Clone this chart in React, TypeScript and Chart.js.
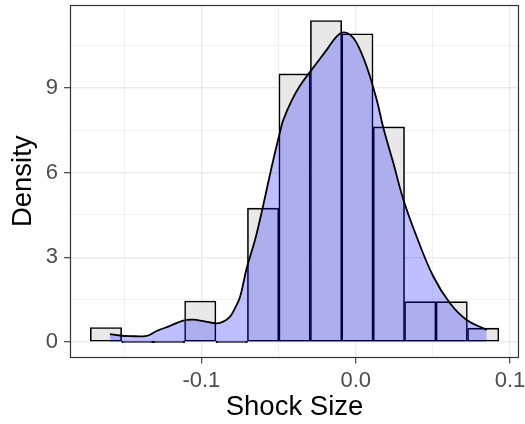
import React, { useEffect, useRef } from "react";
import { Chart, registerables } from "chart.js";

Chart.register(...registerables);

// Histogram bins (density scale)
const binCenters = [-0.1618, -0.1414, -0.121, -0.1007, -0.0803, -0.06, -0.0396, -0.0192, 0.0011, 0.0215, 0.0418, 0.0622, 0.0826];
const binDensity = [0.51, 0, 0, 1.45, 0, 4.74, 9.5, 11.39, 10.92, 7.62, 1.43, 1.43, 0.49];

// Kernel density curve
const densityX = [
  -0.1592, -0.1527, -0.1462, -0.1354, -0.1289, -0.1203, -0.1117, -0.1052, -0.0987, -0.09, -0.0858,
  -0.0814, -0.0782, -0.0749, -0.0706, -0.0652, -0.0605, -0.0566, -0.0534, -0.049, -0.0469, -0.0413,
  -0.0361, -0.0296, -0.0188, -0.0123, -0.008, -0.0037, 0.0007, 0.0071, 0.0136, 0.0179, 0.0244, 0.0309,
  0.0395, 0.0503, 0.0611, 0.0719, 0.0849,
];
const densityY = [
  0.28, 0.23, 0.21, 0.22, 0.39, 0.57, 0.76, 0.79, 0.74, 0.66, 0.72,
  0.9, 1.2, 1.6, 2.62, 3.62, 4.7, 5.67, 6.45, 7.45, 7.87, 8.58,
  9.08, 9.57, 10.35, 10.83, 10.97, 10.89, 10.59, 9.76, 8.58, 7.59, 6.34, 5.04,
  3.73, 2.32, 1.37, 0.78, 0.43,
];

const xTickValues = [-0.15, -0.1, -0.05, 0, 0.05, 0.1];
const xMajorTicks = [-0.1, 0, 0.1];
const yTickValues = [0, 1.5, 3, 4.5, 6, 7.5, 9, 10.5];
const yMajorTicks = [0, 3, 6, 9];
const xTitle = "Shock Size";
const yTitle = "Density";

const FONT = "'Liberation Sans', Arial, sans-serif";

const isIn = (arr: number[], v: number) => arr.some((m) => Math.abs(m - v) < 1e-9);

const panelBorder = {
  id: "panelBorder",
  afterDatasetsDraw(chart: any) {
    const { ctx, chartArea } = chart;
    const { left, top, right, bottom } = chartArea;
    ctx.save();
    ctx.strokeStyle = "#333333";
    ctx.lineWidth = 1.2;
    ctx.strokeRect(Math.round(left) + 0.5, Math.round(top) + 0.5, Math.round(right - left) - 1, Math.round(bottom - top) - 1);
    ctx.restore();
  },
};

export default function App() {
  const ref = useRef<HTMLCanvasElement | null>(null);

  useEffect(() => {
    document.body.style.margin = "0";
    const canvas = ref.current;
    if (!canvas) return;

    const bars = binCenters.map((x, i) => ({ x, y: binDensity[i] }));
    const curve = densityX.map((x, i) => ({ x, y: densityY[i] }));

    const chart = new Chart(canvas, {
      type: "bar",
      data: {
        datasets: [
          {
            type: "line",
            data: curve,
            borderColor: "#000000",
            borderWidth: 1.8,
            backgroundColor: "rgba(0,0,255,0.25)",
            fill: "origin",
            pointRadius: 0,
            tension: 0.4,
            order: 0,
          } as any,
          {
            type: "bar",
            data: bars,
            backgroundColor: "#E8E8E8",
            borderColor: "#000000",
            borderWidth: 1.6,
            borderSkipped: false,
            barPercentage: 1,
            categoryPercentage: 1,
            minBarLength: 1.6,
            order: 1,
          } as any,
        ],
      },
      options: {
        responsive: false,
        animation: false,
        events: [],
        layout: { padding: { top: 5, right: 6, bottom: 0, left: 0 } },
        plugins: { legend: { display: false }, tooltip: { enabled: false } },
        scales: {
          x: {
            type: "linear",
            min: -0.1851,
            max: 0.1058,
            offset: false,
            afterBuildTicks: (scale: any) => {
              scale.ticks = xTickValues.map((v) => ({ value: v }));
            },
            afterFit: (scale: any) => {
              scale.height = 66.5;
              scale.paddingLeft = 0;
              scale.paddingRight = 0;
            },
            border: { display: false },
            grid: {
              offset: false,
              color: "#EBEBEB",
              lineWidth: (c: any) => (isIn(xMajorTicks, c.tick?.value) ? 1.4 : 0.7),
              tickColor: (c: any) => (isIn(xMajorTicks, c.tick?.value) ? "#333333" : "rgba(0,0,0,0)"),
              tickWidth: 1.1,
              tickLength: 6,
              drawTicks: true,
            },
            ticks: {
              autoSkip: false,
              maxRotation: 0,
              minRotation: 0,
              padding: 4,
              color: "#4D4D4D",
              font: { family: FONT, size: 22 },
              callback: (v: any) => (isIn(xMajorTicks, Number(v)) ? Number(v).toFixed(1) : ""),
            },
            title: {
              display: true,
              text: xTitle,
              color: "#000000",
              font: { family: FONT, size: 27.5 },
              padding: { top: 0, bottom: 0 },
            },
          },
          y: {
            type: "linear",
            min: -0.55,
            max: 11.94,
            afterBuildTicks: (scale: any) => {
              scale.ticks = yTickValues.map((v) => ({ value: v }));
            },
            afterFit: (scale: any) => {
              scale.width = 70;
              scale.paddingTop = 0;
              scale.paddingBottom = 0;
            },
            border: { display: false },
            grid: {
              color: "#EBEBEB",
              lineWidth: (c: any) => (isIn(yMajorTicks, c.tick?.value) ? 1.4 : 0.7),
              tickColor: (c: any) => (isIn(yMajorTicks, c.tick?.value) ? "#333333" : "rgba(0,0,0,0)"),
              tickWidth: 1.1,
              tickLength: 6,
              drawTicks: true,
            },
            ticks: {
              autoSkip: false,
              padding: 6,
              color: "#4D4D4D",
              font: { family: FONT, size: 22 },
              callback: (v: any) => (isIn(yMajorTicks, Number(v)) ? String(v) : ""),
            },
            title: {
              display: true,
              text: yTitle,
              color: "#000000",
              font: { family: FONT, size: 27.5 },
              padding: { top: 7, bottom: 0 },
            },
          },
        },
      },
      plugins: [panelBorder],
    });

    return () => chart.destroy();
  }, []);

  return (
    <div style={{ width: 525, height: 424 }}>
      <canvas ref={ref} width={525} height={424} style={{ display: "block", width: 525, height: 424 }} />
    </div>
  );
}
